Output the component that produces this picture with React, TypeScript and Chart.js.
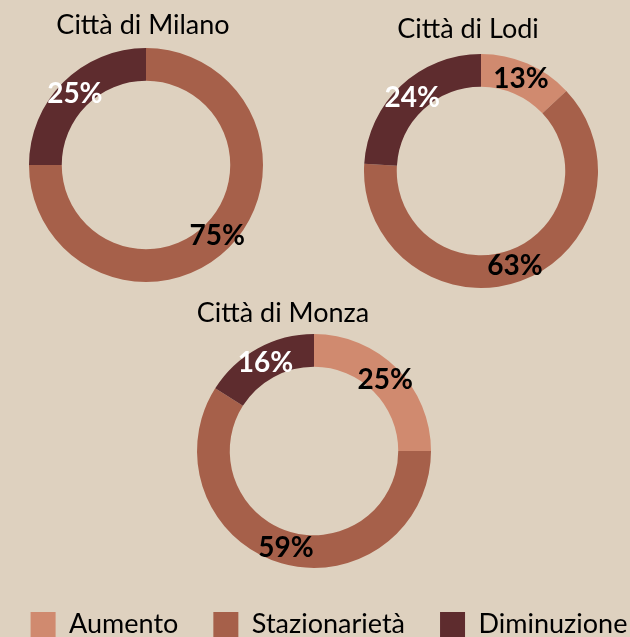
import React, { useEffect, useRef } from "react";
import { Chart, registerables } from "chart.js";

Chart.register(...registerables);

// ---- data ----
const CATEGORIES = ["Aumento", "Stazionarietà", "Diminuzione"];
const CITY_TITLES = ["Città di Milano", "Città di Lodi", "Città di Monza"];
const MILANO = [0, 75, 25];
const LODI = [13, 63, 24];
const MONZA = [25, 59, 16];

// ---- styles ----
const BG = "#ded1bf";
const COLORS = ["#d08a6f", "#a6604a", "#5e2c2e"];
const LABEL_COLORS = ["#000000", "#000000", "#ffffff"];
const FONT = "Lato";

// layout of each city chart: canvas rect + title anchor (canvas coords)
const LAYOUTS = [
  { left: 0, top: 0, width: 292, height: 330, titleX: 143, titleY: 34 },
  { left: 332, top: 0, width: 298, height: 342, titleX: 136, titleY: 38 },
  { left: 0, top: 290, width: 628, height: 322, titleX: 283, titleY: 32 },
];
const LEGEND_RECT = { left: -21, top: 576, width: 700, height: 160 };
const LEGEND_PAD = 35;

const titlePlugin = {
  id: "cityTitle",
  afterDraw(chart: any, _args: any, opts: any) {
    if (!opts || !opts.text) return;
    const ctx = chart.ctx;
    ctx.save();
    ctx.font = `400 ${opts.size}px ${FONT}`;
    ctx.fillStyle = "#000";
    ctx.textAlign = "center";
    ctx.textBaseline = "alphabetic";
    ctx.fillText(opts.text, opts.x, opts.y);
    ctx.restore();
  },
};

const pctPlugin = {
  id: "pctLabels",
  afterDatasetsDraw(chart: any, _args: any, opts: any) {
    if (!opts || !opts.show) return;
    const ctx = chart.ctx;
    const meta = chart.getDatasetMeta(0);
    const values = chart.data.datasets[0].data as number[];
    ctx.save();
    ctx.font = `700 ${opts.size}px ${FONT}`;
    ctx.textAlign = "center";
    ctx.textBaseline = "middle";
    meta.data.forEach((arc: any, i: number) => {
      const v = values[i];
      if (!v) return;
      const p = arc.tooltipPosition();
      ctx.fillStyle = LABEL_COLORS[i];
      ctx.fillText(`${v}%`, p.x, p.y);
    });
    ctx.restore();
  },
};

function cityConfig(values: number[], title: string, lay: any): any {
  return {
    type: "doughnut",
    data: {
      labels: CATEGORIES,
      datasets: [
        {
          data: values,
          backgroundColor: COLORS,
          borderWidth: 0,
        },
      ],
    },
    options: {
      responsive: false,
      animation: false,
      radius: 117,
      cutout: "72%",
      layout: { padding: 0 },
      plugins: {
        legend: { display: false },
        tooltip: { enabled: false },
        title: { display: false },
        cityTitle: { text: title, x: lay.titleX, y: lay.titleY, size: 27 },
        pctLabels: { show: true, size: 28 },
      },
    },
    plugins: [titlePlugin, pctPlugin],
  };
}

function legendConfig(): any {
  return {
    type: "doughnut",
    data: {
      labels: CATEGORIES,
      datasets: [
        {
          data: MONZA,
          backgroundColor: COLORS,
          borderWidth: 0,
        },
      ],
    },
    options: {
      responsive: false,
      animation: false,
      radius: 0,
      layout: { padding: 0 },
      plugins: {
        tooltip: { enabled: false },
        legend: {
          display: true,
          position: "top",
          align: "center",
          labels: {
            boxWidth: 25,
            boxHeight: 25,
            padding: LEGEND_PAD,
            color: "#000",
            font: { family: FONT, size: 27 },
          },
        },
      },
    },
  };
}

export default function App() {
  const refs = [
    useRef<HTMLCanvasElement>(null),
    useRef<HTMLCanvasElement>(null),
    useRef<HTMLCanvasElement>(null),
  ];
  const legendRef = useRef<HTMLCanvasElement>(null);

  useEffect(() => {
    document.body.style.margin = "0";
    Chart.defaults.font.family = FONT;
    const series = [MILANO, LODI, MONZA];
    const charts: Chart[] = [];
    refs.forEach((r, i) => {
      if (r.current) {
        charts.push(new Chart(r.current, cityConfig(series[i], CITY_TITLES[i], LAYOUTS[i])));
      }
    });
    if (legendRef.current) charts.push(new Chart(legendRef.current, legendConfig()));
    return () => charts.forEach((c) => c.destroy());
  }, []);

  return (
    <div
      style={{
        position: "relative",
        width: 630,
        height: 637,
        overflow: "hidden",
        background: BG,
      }}
    >
      {LAYOUTS.map((l, i) => (
        <canvas
          key={i}
          ref={refs[i]}
          width={l.width}
          height={l.height}
          style={{ position: "absolute", left: l.left, top: l.top, width: l.width, height: l.height }}
        />
      ))}
      <canvas
        ref={legendRef}
        width={LEGEND_RECT.width}
        height={LEGEND_RECT.height}
        style={{
          position: "absolute",
          left: LEGEND_RECT.left,
          top: LEGEND_RECT.top,
          width: LEGEND_RECT.width,
          height: LEGEND_RECT.height,
        }}
      />
    </div>
  );
}
